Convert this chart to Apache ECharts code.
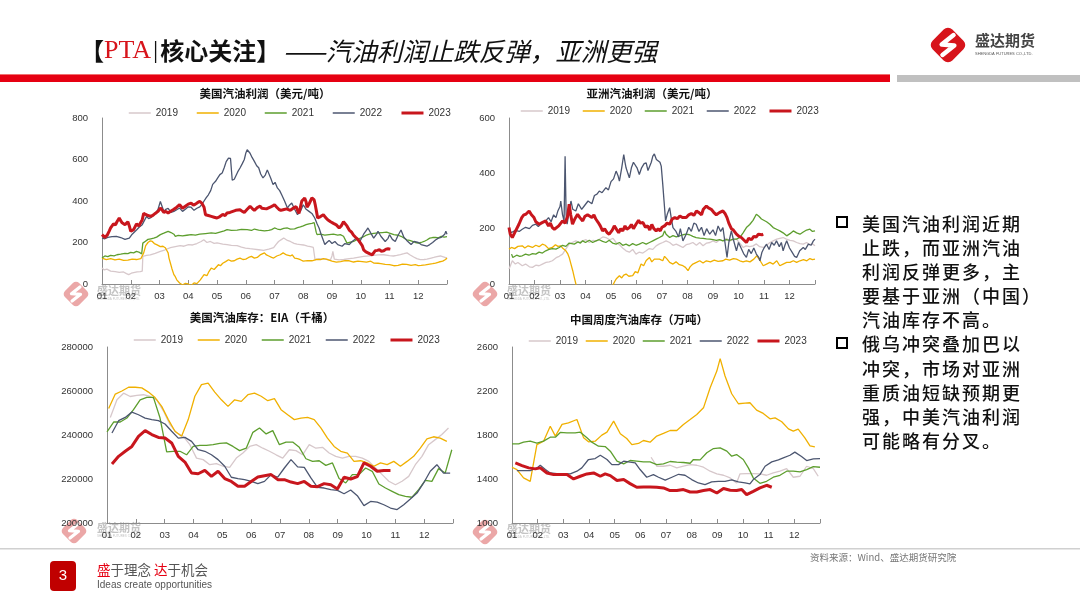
<!DOCTYPE html>
<html>
<head>
<meta charset="utf-8">
<script src="https://cdn.jsdelivr.net/npm/echarts@6/dist/echarts.min.js"></script>
<style>
  html, body { margin:0; padding:0; background:#fff; }
  #wrap { position:relative; width:1080px; height:608px; overflow:hidden; }
  #chart { position:absolute; left:0; top:0; width:1080px; height:608px; }
  #notes { position:absolute; left:862px; top:211px; font-family:"Noto Sans CJK SC", sans-serif; font-size:18px; font-weight:500; letter-spacing:2px; line-height:24.1px; color:#111; white-space:nowrap; }
  .box { position:absolute; width:8px; height:8px; border:2.5px solid #000; background:#fff; }
</style>
</head>
<body>
<div id="wrap">
  <div id="chart"></div>
  <div class="box" style="left:836px; top:216px;"></div>
  <div class="box" style="left:836px; top:337px;"></div>
  <div id="notes">美国汽油利润近期<br>止跌，而亚洲汽油<br>利润反弹更多，主<br>要基于亚洲（中国）<br>汽油库存不高。<br>俄乌冲突叠加巴以<br>冲突，市场对亚洲<br>重质油短缺预期更<br>强，中美汽油利润<br>可能略有分叉。</div>
</div>
<script>
// ---------------- DATA ----------------
const MONTH_LABELS = ['01','02','03','04','05','06','07','08','09','10','11','12'];
const YEARS = ['2019','2020','2021','2022','2023'];

// US gasoline profit (USD/t): [month position, value]
const usProfit2019 = [[0,77],[0.08,68],[0.17,72],[0.3,62],[0.46,60],[0.6,56],[0.75,58],[0.85,50],[0.93,45],[1.02,52],[1.1,55],[1.22,58],[1.33,60],[1.4,62],[1.42,133],[1.55,138],[1.68,140],[1.85,148],[2.03,157],[2.2,165],[2.38,175],[2.55,180],[2.72,185],[2.85,182],[3.01,190],[3.15,188],[3.3,195],[3.45,205],[3.54,213],[3.65,200],[3.77,205],[3.9,196],[4.0,198],[4.2,192],[4.35,190],[4.5,186],[4.7,185],[4.85,178],[4.99,173],[5.15,170],[5.28,168],[5.45,165],[5.62,162],[5.8,168],[5.97,175],[6.05,190],[6.14,205],[6.25,215],[6.32,222],[6.45,210],[6.55,205],[6.68,196],[6.78,192],[6.9,190],[7.01,188],[7.15,183],[7.25,180],[7.35,176],[7.39,175],[7.41,117],[7.55,122],[7.71,120],[7.85,118],[7.94,115],[8.0,135],[8.03,157],[8.08,120],[8.12,112],[8.25,116],[8.41,118],[8.6,122],[8.75,125],[8.95,130],[9.1,133],[9.3,136],[9.45,138],[9.6,140],[9.8,141],[10.0,137],[10.14,135],[10.25,138],[10.38,142],[10.5,146],[10.61,150],[10.72,140],[10.84,130],[10.95,122],[11.07,117],[11.2,118],[11.3,120],[11.45,125],[11.54,128],[11.65,132],[11.77,135],[11.9,130],[12.0,125]];
const usProfit2020 = [[0,125],[0.15,118],[0.3,122],[0.45,116],[0.6,120],[0.75,114],[0.9,115],[1.05,120],[1.2,118],[1.35,122],[1.45,150],[1.52,185],[1.6,200],[1.68,208],[1.75,205],[1.82,195],[1.9,190],[2.03,180],[2.12,182],[2.2,175],[2.26,160],[2.3,150],[2.33,125],[2.38,100],[2.43,75],[2.5,45],[2.55,35],[2.6,20],[2.7,5],[2.8,-5],[2.9,3],[3.0,0],[3.1,-8],[3.2,5],[3.3,2],[3.42,20],[3.5,35],[3.55,45],[3.65,40],[3.72,60],[3.8,77],[3.9,70],[4.05,93],[4.12,88],[4.2,100],[4.3,108],[4.4,117],[4.5,110],[4.6,112],[4.7,120],[4.8,125],[4.9,118],[5.0,120],[5.1,128],[5.2,133],[5.3,125],[5.4,128],[5.5,140],[5.65,150],[5.72,140],[5.8,135],[5.9,128],[5.97,125],[6.08,135],[6.2,141],[6.3,150],[6.42,140],[6.55,135],[6.62,140],[6.7,125],[6.8,122],[6.9,117],[7.0,110],[7.15,113],[7.3,112],[7.45,118],[7.6,117],[7.7,122],[7.8,120],[7.9,115],[8.0,110],[8.15,105],[8.3,108],[8.45,113],[8.6,112],[8.75,106],[8.9,110],[9.05,108],[9.2,105],[9.35,110],[9.45,101],[9.6,100],[9.7,98],[9.85,95],[10.0,93],[10.15,88],[10.3,90],[10.45,96],[10.6,95],[10.75,90],[10.9,93],[11.0,89],[11.1,90],[11.25,92],[11.4,96],[11.5,98],[11.6,101],[11.72,106],[11.85,110],[11.95,118],[12.0,125]];
const usProfit2021 = [[0,125],[0.05,118],[0.1,135],[0.2,132],[0.3,138],[0.42,136],[0.52,141],[0.65,144],[0.8,148],[0.9,146],[1.0,152],[1.1,150],[1.2,157],[1.28,154],[1.33,150],[1.38,145],[1.42,197],[1.5,205],[1.6,215],[1.7,218],[1.8,221],[1.9,226],[2.03,238],[2.15,245],[2.3,254],[2.4,248],[2.5,240],[2.55,230],[2.65,234],[2.8,232],[2.95,235],[3.1,238],[3.25,236],[3.4,240],[3.6,243],[3.8,246],[3.95,244],[4.1,250],[4.25,256],[4.35,262],[4.5,258],[4.7,260],[4.85,263],[5.05,262],[5.2,258],[5.3,265],[5.45,260],[5.5,262],[5.65,256],[5.8,258],[5.9,262],[6.0,270],[6.1,265],[6.2,262],[6.32,268],[6.45,270],[6.55,264],[6.7,266],[6.8,272],[6.9,275],[7.0,280],[7.1,286],[7.2,290],[7.3,292],[7.38,296],[7.42,300],[7.45,250],[7.48,238],[7.6,240],[7.75,236],[7.9,238],[8.05,240],[8.2,236],[8.29,238],[8.4,230],[8.52,197],[8.6,200],[8.75,205],[8.85,212],[8.99,221],[9.1,228],[9.2,236],[9.3,240],[9.45,244],[9.6,246],[9.75,248],[9.9,250],[10.0,245],[10.15,238],[10.3,235],[10.4,230],[10.5,222],[10.6,213],[10.7,210],[10.8,205],[10.9,200],[11.0,197],[11.1,200],[11.2,205],[11.3,212],[11.4,221],[11.5,224],[11.6,225],[11.7,222],[11.8,230],[11.9,226],[12.0,228]];
const usProfit2022 = [[0,221],[0.1,218],[0.2,225],[0.35,228],[0.5,230],[0.65,224],[0.8,215],[0.95,221],[1.05,240],[1.2,260],[1.3,275],[1.4,286],[1.55,326],[1.62,315],[1.7,320],[1.78,330],[1.85,340],[1.95,360],[2.03,398],[2.1,370],[2.15,350],[2.22,360],[2.3,365],[2.4,345],[2.5,350],[2.6,358],[2.7,366],[2.8,350],[2.9,360],[3.0,372],[3.1,370],[3.2,355],[3.3,365],[3.4,372],[3.48,385],[3.55,400],[3.62,415],[3.7,430],[3.78,450],[3.85,480],[3.95,495],[4.02,510],[4.1,527],[4.18,535],[4.25,560],[4.32,590],[4.4,607],[4.47,605],[4.5,600],[4.53,500],[4.6,505],[4.65,511],[4.72,540],[4.8,559],[4.88,580],[4.95,600],[5.0,630],[5.05,647],[5.1,640],[5.15,630],[5.22,610],[5.3,591],[5.38,570],[5.45,560],[5.52,530],[5.6,511],[5.68,525],[5.75,550],[5.8,543],[5.87,510],[5.95,479],[6.02,490],[6.1,463],[6.18,450],[6.25,430],[6.35,400],[6.45,366],[6.52,380],[6.6,390],[6.7,360],[6.8,334],[6.9,350],[7.0,382],[7.1,360],[7.2,350],[7.3,340],[7.4,318],[7.48,290],[7.55,270],[7.62,240],[7.7,210],[7.75,190],[7.82,200],[7.9,210],[8.0,195],[8.1,205],[8.2,190],[8.35,182],[8.45,195],[8.6,190],[8.7,205],[8.85,221],[8.95,200],[9.0,205],[9.1,240],[9.2,260],[9.25,270],[9.35,245],[9.45,221],[9.55,240],[9.6,254],[9.7,230],[9.85,205],[9.95,220],[10.0,238],[10.1,215],[10.2,205],[10.3,235],[10.4,260],[10.5,225],[10.6,210],[10.75,190],[10.85,205],[11.0,200],[11.1,190],[11.3,182],[11.4,190],[11.5,200],[11.6,212],[11.7,221],[11.8,225],[11.85,230],[11.92,240],[11.96,254],[12.0,240]];
const usProfit2023 = [[0,238],[0.05,230],[0.1,225],[0.18,235],[0.25,255],[0.3,270],[0.4,290],[0.47,285],[0.52,300],[0.6,318],[0.65,305],[0.7,295],[0.8,286],[0.9,300],[0.95,280],[1.0,254],[1.05,258],[1.1,262],[1.2,290],[1.28,280],[1.33,286],[1.4,310],[1.45,340],[1.52,335],[1.6,330],[1.7,326],[1.78,332],[1.85,340],[1.95,350],[2.03,366],[2.1,355],[2.15,345],[2.22,350],[2.3,342],[2.4,352],[2.5,360],[2.6,370],[2.7,382],[2.8,365],[2.9,375],[3.0,385],[3.1,390],[3.18,380],[3.25,385],[3.32,392],[3.4,398],[3.47,390],[3.55,370],[3.6,334],[3.7,330],[3.8,326],[3.9,322],[4.0,318],[4.1,325],[4.2,335],[4.28,330],[4.35,342],[4.45,345],[4.55,350],[4.65,355],[4.8,358],[4.88,350],[4.95,345],[5.05,360],[5.15,374],[5.22,365],[5.3,355],[5.4,368],[5.5,375],[5.56,365],[5.62,358],[5.72,362],[5.85,370],[5.92,375],[6.0,382],[6.08,370],[6.15,360],[6.22,355],[6.3,358],[6.42,362],[6.55,355],[6.65,365],[6.75,374],[6.8,355],[6.85,340],[6.9,370],[6.95,400],[7.0,408],[7.05,414],[7.1,395],[7.13,370],[7.2,385],[7.25,400],[7.3,415],[7.33,422],[7.38,405],[7.42,380],[7.46,350],[7.5,318],[7.6,325],[7.7,334],[7.78,320],[7.85,310],[7.95,300],[8.05,292],[8.15,285],[8.25,270],[8.32,280],[8.4,300],[8.45,305],[8.52,280],[8.6,260],[8.68,250],[8.75,235],[8.82,225],[8.9,215],[8.95,205],[9.0,200],[9.05,185],[9.1,165],[9.18,155],[9.25,150],[9.32,145],[9.4,141],[9.45,150],[9.5,160],[9.58,162],[9.65,165],[9.72,158],[9.8,160],[9.88,168],[9.95,170],[10.03,168]];

// Asia gasoline profit (USD/t): [month position, value]
const asProfit2019 = [[0,54],[0.07,70],[0.13,84],[0.25,72],[0.35,78],[0.52,66],[0.65,72],[0.8,62],[0.92,60],[1.05,68],[1.18,66],[1.31,72],[1.45,78],[1.58,80],[1.7,84],[1.85,95],[1.97,100],[2.1,108],[2.22,125],[2.36,144],[2.48,150],[2.62,156],[2.75,150],[2.89,156],[3.02,160],[3.15,150],[3.3,158],[3.42,155],[3.54,162],[3.68,170],[3.8,168],[3.95,160],[4.08,165],[4.2,150],[4.35,140],[4.48,128],[4.59,120],[4.72,115],[4.85,125],[4.98,108],[5.1,115],[5.25,112],[5.38,120],[5.5,128],[5.64,125],[5.77,138],[5.9,145],[6.03,150],[6.16,156],[6.3,150],[6.43,140],[6.56,144],[6.7,138],[6.82,132],[6.95,142],[7.08,145],[7.21,150],[7.35,140],[7.48,150],[7.61,138],[7.75,148],[7.88,150],[8.0,156],[8.13,150],[8.26,160],[8.39,156],[8.52,165],[8.65,155],[8.78,160],[8.92,162],[9.05,148],[9.18,132],[9.3,138],[9.44,135],[9.57,138],[9.7,145],[9.83,135],[9.97,132],[10.1,140],[10.23,150],[10.36,156],[10.5,162],[10.62,165],[10.75,168],[10.88,162],[11.02,158],[11.15,156],[11.28,150],[11.41,146],[11.54,144],[11.67,150],[11.8,142],[11.9,145],[12.0,138]];
const asProfit2020 = [[0,126],[0.1,132],[0.22,128],[0.35,136],[0.52,138],[0.62,130],[0.75,138],[0.92,132],[1.05,140],[1.18,135],[1.31,144],[1.42,140],[1.55,128],[1.7,132],[1.82,142],[1.92,136],[2.03,138],[2.12,128],[2.23,120],[2.3,110],[2.36,96],[2.43,72],[2.5,48],[2.56,24],[2.65,-10],[3.0,-40],[3.5,-50],[4.0,-30],[4.07,-5],[4.15,10],[4.22,20],[4.33,30],[4.42,22],[4.5,32],[4.59,36],[4.7,28],[4.85,30],[4.95,45],[5.05,40],[5.18,72],[5.28,66],[5.38,85],[5.51,96],[5.6,80],[5.7,90],[5.77,84],[5.9,90],[6.03,84],[6.1,100],[6.2,90],[6.3,78],[6.43,72],[6.55,80],[6.68,70],[6.82,66],[6.92,60],[7.02,48],[7.1,62],[7.21,72],[7.35,78],[7.48,84],[7.61,76],[7.74,84],[7.9,80],[8.05,86],[8.2,82],[8.39,84],[8.5,90],[8.65,86],[8.8,92],[8.92,90],[9.05,84],[9.18,80],[9.31,84],[9.45,80],[9.6,90],[9.72,102],[9.85,84],[9.97,66],[10.1,72],[10.23,78],[10.36,72],[10.5,84],[10.62,66],[10.75,72],[10.89,78],[11.02,78],[11.15,84],[11.28,78],[11.41,84],[11.55,88],[11.68,84],[11.8,92],[11.9,88],[12.0,90]];
const asProfit2021 = [[0.1,108],[0.15,96],[0.2,96],[0.3,104],[0.42,100],[0.52,102],[0.65,108],[0.78,104],[0.92,110],[1.05,108],[1.18,115],[1.31,112],[1.44,120],[1.57,125],[1.7,128],[1.84,126],[1.97,132],[2.1,140],[2.23,136],[2.36,148],[2.43,150],[2.56,144],[2.7,152],[2.8,148],[2.89,156],[3.0,150],[3.15,158],[3.28,150],[3.41,156],[3.54,160],[3.67,154],[3.8,150],[3.93,158],[4.06,148],[4.2,144],[4.33,150],[4.46,140],[4.59,144],[4.72,138],[4.85,146],[4.98,140],[5.11,144],[5.24,150],[5.38,144],[5.51,150],[5.64,156],[5.77,162],[5.9,168],[6.03,175],[6.1,192],[6.16,180],[6.3,168],[6.43,175],[6.56,170],[6.69,174],[6.82,178],[6.95,180],[7.08,178],[7.21,172],[7.34,168],[7.48,166],[7.61,165],[7.74,163],[7.87,162],[8.0,160],[8.13,158],[8.26,160],[8.39,156],[8.52,160],[8.65,158],[8.79,162],[8.92,162],[9.05,168],[9.18,185],[9.31,204],[9.44,215],[9.57,230],[9.7,252],[9.8,245],[9.9,235],[9.97,240],[10.1,225],[10.23,216],[10.36,204],[10.49,198],[10.62,192],[10.75,185],[10.89,174],[11.02,182],[11.15,192],[11.28,185],[11.41,180],[11.54,188],[11.67,195],[11.8,198],[11.9,190],[12.0,192]];
const asProfit2022 = [[0,192],[0.1,186],[0.25,194],[0.4,190],[0.52,198],[0.65,205],[0.8,200],[0.92,212],[1.05,216],[1.15,208],[1.3,222],[1.44,228],[1.55,240],[1.65,225],[1.75,250],[1.84,240],[1.92,265],[2.0,280],[2.03,300],[2.1,250],[2.16,228],[2.2,462],[2.24,250],[2.28,216],[2.35,260],[2.43,300],[2.5,270],[2.62,264],[2.72,290],[2.85,270],[2.95,282],[3.02,288],[3.1,300],[3.15,306],[3.25,290],[3.35,320],[3.45,325],[3.54,336],[3.65,330],[3.8,348],[3.9,340],[4.0,370],[4.1,380],[4.2,408],[4.28,390],[4.33,372],[4.42,420],[4.5,468],[4.55,440],[4.59,420],[4.66,400],[4.72,384],[4.8,420],[4.88,440],[4.94,444],[5.02,420],[5.11,396],[5.2,420],[5.3,435],[5.38,438],[5.45,410],[5.51,408],[5.58,440],[5.64,462],[5.7,470],[5.78,450],[5.84,444],[5.92,440],[5.97,426],[6.03,360],[6.08,300],[6.14,228],[6.2,250],[6.3,276],[6.36,240],[6.43,204],[6.55,190],[6.65,170],[6.72,200],[6.82,156],[6.95,180],[7.05,205],[7.15,190],[7.25,220],[7.34,216],[7.45,190],[7.55,205],[7.65,175],[7.75,200],[7.87,180],[8.0,196],[8.1,175],[8.2,210],[8.3,190],[8.39,204],[8.47,150],[8.55,96],[8.62,150],[8.72,192],[8.8,160],[8.92,120],[9.0,150],[9.1,130],[9.2,110],[9.31,96],[9.4,125],[9.5,110],[9.6,130],[9.7,108],[9.8,95],[9.84,84],[9.92,115],[10.0,130],[10.1,144],[10.2,125],[10.3,150],[10.4,140],[10.49,156],[10.6,135],[10.68,150],[10.75,120],[10.82,140],[10.89,156],[11.0,130],[11.1,115],[11.2,100],[11.28,96],[11.4,120],[11.54,132],[11.62,125],[11.74,144],[11.85,140],[11.93,155],[12.0,162]];
const asProfit2023 = [[0,204],[0.05,180],[0.13,168],[0.25,190],[0.39,216],[0.5,240],[0.58,250],[0.66,252],[0.72,245],[0.79,264],[0.88,250],[0.98,240],[1.05,225],[1.12,232],[1.18,216],[1.3,222],[1.44,228],[1.55,210],[1.62,220],[1.7,204],[1.78,198],[1.84,192],[1.95,210],[2.02,215],[2.1,228],[2.2,220],[2.3,246],[2.36,288],[2.42,250],[2.49,216],[2.58,235],[2.69,252],[2.78,240],[2.89,228],[2.98,245],[3.08,250],[3.15,246],[3.25,240],[3.33,250],[3.41,234],[3.5,222],[3.58,210],[3.67,192],[3.75,200],[3.85,185],[3.93,180],[4.05,195],[4.13,210],[4.2,204],[4.3,185],[4.38,200],[4.46,192],[4.55,210],[4.62,198],[4.72,204],[4.8,215],[4.88,200],[4.98,216],[5.08,230],[5.15,220],[5.25,222],[5.35,205],[5.44,210],[5.52,195],[5.6,215],[5.68,200],[5.77,192],[5.85,200],[5.93,192],[6.0,205],[6.1,210],[6.2,220],[6.3,216],[6.4,235],[6.5,240],[6.6,236],[6.7,246],[6.8,240],[6.95,240],[7.05,250],[7.15,255],[7.25,248],[7.35,264],[7.45,258],[7.55,250],[7.62,270],[7.74,282],[7.82,275],[7.93,270],[8.02,260],[8.13,250],[8.25,258],[8.39,264],[8.47,255],[8.55,240],[8.62,220],[8.72,200],[8.8,195],[8.92,180],[9.02,172],[9.11,168],[9.2,160],[9.31,150],[9.4,165],[9.51,160],[9.6,172],[9.7,170],[9.78,180],[9.84,185],[9.92,178],[9.97,180]];

// US gasoline stocks, EIA (thousand barrels), weekly values
const eiaStart = { '2019':0.5, '2020':0.25, '2021':0, '2022':0.75, '2023':0.75 };
const eia2019 = [248000,256000,259000,257500,258000,258300,257500,256000,251000,244700,241000,239400,235600,229500,228800,226500,227000,225800,225300,229500,231800,234800,235600,234000,232600,231000,229500,233300,232900,231000,235600,234000,234400,231800,230300,229500,230300,230300,229500,228000,225000,222000,219000,217400,219000,221200,226500,230300,235600,237900,240200,243200];
const eia2020 = [252000,258600,260000,261700,261700,261400,259500,257000,253000,247000,241700,239400,247000,257600,262900,263600,259500,256000,253000,256000,255300,258300,259000,257600,255600,256500,251500,249200,247000,247700,248000,247000,243200,238600,234800,232600,231800,228000,228300,227300,225800,227300,226500,228000,225800,228000,230300,234000,238200,239200,238600,237100];
const eia2021 = [241400,245900,245900,247700,251500,256000,257100,257100,247700,232300,232600,232600,231000,234800,235300,235300,235600,236200,236400,234800,232900,234000,241200,243200,240500,242000,235600,236800,236800,234400,229200,228000,228300,226200,227300,220200,218200,222000,222000,225000,223500,217700,215900,214400,212900,212100,211700,215200,219400,218900,224700,222700,233300];
const eia2022 = [240900,246500,248000,250400,249200,247700,247000,246500,245000,241700,238600,238900,237100,233300,232600,231000,228800,225800,220800,220200,219700,218900,217900,218900,222000,220800,225000,228800,225500,225300,220500,216200,215900,215200,214800,213300,215000,212400,207900,209800,209500,208300,206800,206100,208300,210900,213600,218200,223500,226500,222700,222700];
const eia2023 = [226800,230300,232600,234800,239400,242000,240200,238900,238600,236400,230300,227700,222700,222400,223900,221200,223500,220200,218900,216700,216700,218900,220900,221500,222000,219700,219700,218600,217900,218900,216700,216500,217900,217400,215500,220800,220000,221100,227300,225800,223500,223900,223900];

// China weekly gasoline stocks (10k t): [month position, value]
const cn2019 = [[5.42,1598],[5.64,1516],[5.9,1516],[6.16,1525],[6.42,1501],[6.68,1516],[6.94,1531],[7.2,1525],[7.46,1507],[7.72,1471],[7.98,1446],[8.24,1434],[8.5,1410],[8.75,1364],[8.88,1446],[9.14,1449],[9.4,1449],[9.66,1446],[9.92,1434],[10.18,1455],[10.44,1471],[10.7,1495],[10.96,1416],[11.22,1425],[11.48,1516],[11.74,1495],[11.93,1425]];
const cn2020 = [[0,1507],[0.19,1486],[0.45,1410],[0.71,1379],[0.97,1713],[1.23,1744],[1.49,1880],[1.69,1790],[1.95,1896],[2.2,1911],[2.53,1941],[2.79,1774],[2.98,1738],[3.24,1744],[3.5,1799],[3.7,1826],[3.96,1926],[4.22,1811],[4.47,1768],[4.67,1713],[4.93,1723],[5.12,1750],[5.38,1735],[5.64,1790],[5.9,1814],[6.16,1841],[6.42,1841],[6.68,1896],[6.94,1941],[7.2,1987],[7.46,2047],[7.72,2230],[7.98,2381],[8.11,2494],[8.3,2336],[8.56,2175],[8.82,2084],[9.08,2090],[9.27,2093],[9.53,2026],[9.79,1996],[10.05,1947],[10.25,1956],[10.51,1920],[10.77,1856],[10.96,1835],[11.15,1853],[11.41,1774],[11.61,1701],[11.8,1692]];
const cn2021 = [[0,1720],[0.26,1720],[0.45,1735],[0.71,1744],[0.97,1726],[1.23,1744],[1.49,1780],[1.69,1780],[1.88,1823],[2.14,1820],[2.46,1820],[2.66,1826],[2.92,1774],[3.11,1735],[3.37,1698],[3.63,1695],[3.83,1653],[4.09,1562],[4.35,1537],[4.6,1568],[4.86,1562],[5.12,1556],[5.38,1556],[5.64,1531],[5.9,1537],[6.16,1559],[6.42,1553],[6.68,1550],[6.94,1543],[7.07,1577],[7.33,1574],[7.59,1638],[7.85,1677],[8.11,1683],[8.37,1653],[8.56,1607],[8.75,1622],[9.01,1577],[9.21,1501],[9.4,1410],[9.66,1361],[9.92,1379],[10.18,1416],[10.44,1434],[10.7,1471],[10.96,1471],[11.22,1465],[11.48,1486],[11.74,1513],[12.0,1507]];
const cn2022 = [[0.19,1477],[0.45,1477],[0.71,1477],[0.97,1501],[1.1,1525],[1.3,1486],[1.49,1455],[1.75,1449],[2.01,1449],[2.27,1446],[2.53,1471],[2.72,1501],[2.98,1577],[3.24,1586],[3.44,1616],[3.7,1577],[3.89,1531],[4.15,1531],[4.35,1562],[4.54,1556],[4.8,1547],[4.99,1486],[5.25,1416],[5.51,1440],[5.71,1416],[5.97,1389],[6.23,1416],[6.49,1443],[6.74,1434],[7.0,1395],[7.26,1364],[7.52,1349],[7.78,1373],[8.04,1379],[8.3,1379],[8.56,1392],[8.82,1373],[9.08,1364],[9.27,1355],[9.4,1395],[9.66,1440],[9.86,1516],[10.12,1556],[10.38,1574],[10.57,1592],[10.83,1616],[11.02,1644],[11.28,1604],[11.48,1568],[11.74,1583],[12.0,1586]];
const cn2023 = [[0.13,1546],[0.39,1522],[0.65,1501],[0.91,1492],[1.1,1501],[1.36,1455],[1.62,1440],[1.88,1440],[2.14,1440],[2.4,1401],[2.66,1425],[2.92,1446],[3.18,1455],[3.44,1425],[3.63,1446],[3.83,1431],[4.09,1386],[4.35,1395],[4.6,1358],[4.86,1325],[5.12,1328],[5.38,1328],[5.64,1325],[5.9,1319],[6.16,1295],[6.42,1295],[6.68,1304],[6.94,1282],[7.2,1282],[7.46,1295],[7.72,1304],[7.98,1273],[8.24,1313],[8.5,1298],[8.75,1295],[8.95,1304],[9.14,1258],[9.4,1288],[9.66,1319],[9.92,1343],[10.12,1325]];

// ---------------- CHART ----------------
const FONT_CN = '"Noto Sans CJK SC", sans-serif';
const FONT_LAT = '"Liberation Sans", Arial, sans-serif';
const COLORS = { '2019':'#d7c8cb', '2020':'#f0b000', '2021':'#5d9e2e', '2022':'#4c5670', '2023':'#c8161d' };
const AXIS_COLOR = '#8c8c8c';

const WEEKS_PER_YEAR = 52.18;
function weekly(year, vals) { return vals.map((v, i) => [(eiaStart[year] + i) * 12 / WEEKS_PER_YEAR, v]); }

const panels = [
  { grid:{left:102, top:118, width:345, height:166}, y:{min:0, max:800, interval:200},
    title:'美国汽油利润（美元/吨）', tx:265, ty:94,
    legend:{left:128, top:108, itemGap:18},
    data:{'2019':usProfit2019,'2020':usProfit2020,'2021':usProfit2021,'2022':usProfit2022,'2023':usProfit2023} },
  { grid:{left:509, top:118, width:306, height:166}, y:{min:0, max:600, interval:200},
    title:'亚洲汽油利润（美元/吨）', tx:652, ty:94,
    legend:{left:520, top:106, itemGap:12},
    data:{'2019':asProfit2019,'2020':asProfit2020,'2021':asProfit2021,'2022':asProfit2022,'2023':asProfit2023} },
  { grid:{left:107, top:347, width:346, height:176}, y:{min:200000, max:280000, interval:20000},
    title:'美国汽油库存：EIA（千桶）', tx:262, ty:318,
    legend:{left:133, top:335, itemGap:14},
    data:{'2019':weekly('2019',eia2019),'2020':weekly('2020',eia2020),'2021':weekly('2021',eia2021),'2022':weekly('2022',eia2022),'2023':weekly('2023',eia2023)} },
  { grid:{left:512, top:347, width:308, height:176}, y:{min:1000, max:2600, interval:400},
    title:'中国周度汽油库存（万吨）', tx:639, ty:320,
    legend:{left:528, top:336, itemGap:7},
    data:{'2019':cn2019,'2020':cn2020,'2021':cn2021,'2022':cn2022,'2023':cn2023} }
];

const grids = [], xAxes = [], yAxes = [], legends = [], series = [], graphics = [];

panels.forEach((p, gi) => {
  grids.push(Object.assign({ outerBoundsMode:'none', containLabel:false }, p.grid));
  xAxes.push({
    type:'value', gridIndex:gi, min:0, max:12, interval:1,
    axisLine:{ show:true, onZero:false, lineStyle:{ color:AXIS_COLOR, width:1 } },
    axisTick:{ show:true, inside:true, length:4, lineStyle:{ color:AXIS_COLOR } },
    axisLabel:{ formatter:(v) => { const k = Math.round(v); return k < 12 ? MONTH_LABELS[k] : ''; },
      fontSize:9.5, color:'#333', margin:7, fontFamily:FONT_LAT },
    splitLine:{ show:false }
  });
  yAxes.push({
    type:'value', gridIndex:gi, min:p.y.min, max:p.y.max, interval:p.y.interval,
    axisLine:{ show:true, lineStyle:{ color:AXIS_COLOR, width:1 } },
    axisTick:{ show:false },
    axisLabel:{ formatter:(v) => String(v), fontSize:9.5, color:'#333', margin:14, fontFamily:FONT_LAT },
    splitLine:{ show:false }
  });
  legends.push({
    left:p.legend.left, top:p.legend.top, itemGap:p.legend.itemGap, padding:0,
    itemWidth:22, itemHeight:10, orient:'horizontal', selectedMode:false,
    itemStyle:{ opacity:0 },
    data:YEARS.map((yr) => ({ name:yr, lineStyle:{ width: yr === '2023' ? 3 : 1.5, color:COLORS[yr] } })),
    textStyle:{ fontSize:10, color:'#333', fontFamily:FONT_LAT }
  });
  YEARS.forEach((yr) => {
    series.push({
      type:'line', name:yr, xAxisIndex:gi, yAxisIndex:gi, data:p.data[yr],
      symbol:'none', showSymbol:false, smooth:false, clip:true, silent:true,
      z: yr === '2023' ? 5 : 2,
      lineStyle:{ color:COLORS[yr], width: yr === '2023' ? 3 : 1.3 },
      itemStyle:{ color:COLORS[yr] },
      emphasis:{ disabled:true }
    });
  });
  graphics.push({ type:'text', x:p.tx, y:p.ty, silent:true,
    style:{ text:p.title, font:'bold 11.5px ' + FONT_CN, fill:'#111', align:'center', verticalAlign:'middle' } });
});

// Logo helper (red rounded diamond with white S stroke)
function logo(cx, cy, s, fill, opacity) {
  const d = s * 0.707;
  return { type:'group', x:cx, y:cy, silent:true, children:[
    { type:'rect', rotation:Math.PI/4, shape:{ x:-s/2, y:-s/2, width:s, height:s, r:s*0.22 }, style:{ fill:fill, opacity:opacity } },
    { type:'polyline', shape:{ points:[[0.28*d,-0.5*d],[-0.32*d,-0.02*d],[0.32*d,0.02*d],[-0.28*d,0.5*d]] },
      style:{ stroke:'#fff', lineWidth:s*0.16, fill:null, lineJoin:'round', lineCap:'round', opacity:1 } }
  ]};
}

// Header
graphics.push({ type:'text', x:80, y:51, silent:true, style:{
  text:'{b|【}{p|PTA}{s||}{b|核心关注】}{sp| }{i|——汽油利润止跌反弹，亚洲更强}',
  verticalAlign:'middle',
  rich:{
    b:{ fontFamily:FONT_CN, fontSize:24, fontWeight:'bold', fill:'#111' },
    p:{ fontFamily:'"Liberation Serif", serif', fontSize:26, fill:'#d7141b' },
    s:{ fontFamily:'"Liberation Serif", serif', fontSize:26, fill:'#111', padding:[0,2,0,2] },
    sp:{ fontSize:10 },
    i:{ fontFamily:FONT_CN, fontSize:25.5, fontStyle:'italic', fontWeight:'normal', fill:'#111' }
  }
}});
graphics.push({ type:'rect', silent:true, shape:{ x:0, y:74, width:890, height:8 }, style:{ fill:'#e60012' } });
graphics.push({ type:'rect', silent:true, shape:{ x:0, y:74, width:890, height:1 }, style:{ fill:'#f07070' } });
graphics.push({ type:'rect', silent:true, shape:{ x:897, y:75, width:183, height:7 }, style:{ fill:'#c0c0c0' } });
graphics.push(logo(948, 45, 28, '#d7141b', 1));
graphics.push({ type:'text', x:975, y:40, silent:true, style:{ text:'盛达期货', font:'bold 15px ' + FONT_CN, fill:'#444', verticalAlign:'middle' } });
graphics.push({ type:'text', x:975, y:54, silent:true, style:{ text:'SHENGDA FUTURES CO.,LTD.', font:'4px ' + FONT_LAT, fill:'#555', verticalAlign:'middle' } });

// Watermarks
[[76,294,97,291],[485,294,507,291],[74,531,97,528],[485,532,507,529]].forEach((w) => {
  graphics.push(logo(w[0], w[1], 20, '#e48a8a', 0.75));
  graphics.push({ type:'text', x:w[2], y:w[3], silent:true, style:{ text:'盛达期货', font:'bold 11px ' + FONT_CN, fill:'#c4c4c4', verticalAlign:'middle' } });
  graphics.push({ type:'text', x:w[2], y:w[3]+8, silent:true, style:{ text:'SHENGDA FUTURES CO.,LTD.', font:'3px ' + FONT_LAT, fill:'#c4c4c4', verticalAlign:'middle' } });
});

// Footer
graphics.push({ type:'rect', silent:true, shape:{ x:0, y:548, width:1080, height:1.5 }, style:{ fill:'#d0d0d0' } });
graphics.push({ type:'rect', silent:true, shape:{ x:50, y:561, width:26, height:30, r:4 }, style:{ fill:'#c00000' } });
graphics.push({ type:'text', x:63, y:576, silent:true, style:{ text:'3', font:'15px ' + FONT_LAT, fill:'#fff', align:'center', verticalAlign:'middle' } });
graphics.push({ type:'text', x:97, y:570, silent:true, style:{
  text:'{r|盛}{g|于理念 }{r|达}{g|于机会}', verticalAlign:'middle',
  rich:{ r:{ fontFamily:FONT_CN, fontSize:13.5, fill:'#e60012' }, g:{ fontFamily:FONT_CN, fontSize:13.5, fill:'#555' } } } });
graphics.push({ type:'text', x:97, y:585, silent:true, style:{ text:'Ideas create opportunities', font:'10px ' + FONT_LAT, fill:'#555', verticalAlign:'middle' } });
graphics.push({ type:'text', x:810, y:557, silent:true, style:{ text:'资料来源：Wind、盛达期货研究院', font:'9.5px ' + FONT_CN, fill:'#777', verticalAlign:'middle' } });

const chart = echarts.init(document.getElementById('chart'), null, { renderer:'canvas' });
chart.setOption({
  animation:false,
  backgroundColor:'#ffffff',
  grid:grids, xAxis:xAxes, yAxis:yAxes, legend:legends, series:series,
  graphic:graphics
});
</script>
</body>
</html>
